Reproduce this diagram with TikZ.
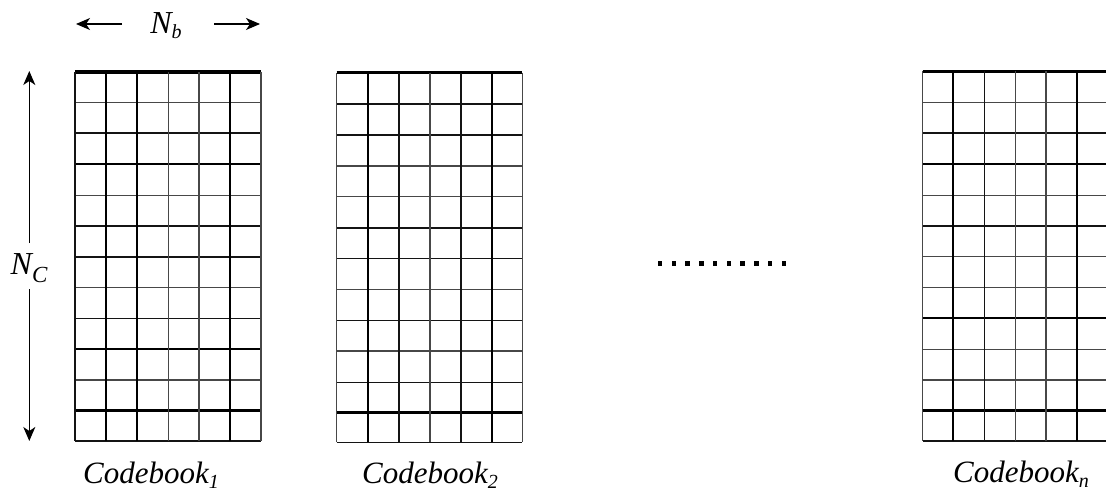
\documentclass[tikz,border=0pt]{standalone}
\usepackage{fontspec}
\setmainfont{Liberation Serif}
\usetikzlibrary{arrows.meta}
\newcommand{\cbsub}[1]{\raisebox{-5pt}{\fontsize{20}{20}\selectfont #1}}
\tikzset{
  gA/.style={line width=1.2pt, draw=black!72},
  gB/.style={line width=1.6pt, draw=black!92},
  gC/.style={line width=2.1pt, draw=black},
  gD/.style={line width=3.2pt, draw=black},
  arr/.style={line width=1.4pt, -{Stealth[length=14pt,width=12pt,inset=4pt]}},
  lbl/.style={font=\fontsize{31}{32}\selectfont\itshape, inner sep=0pt, anchor=base},
  dotsq/.style={fill=black, minimum size=4.5pt, inner sep=0pt, draw=none}
}
\begin{document}
\begin{tikzpicture}[x=1pt,y=-1pt]
\useasboundingbox (0,0) rectangle (1106,492);
\clip (0,0) rectangle (1106,492);
\fill[white] (0,0) rectangle (1106,492);

% ---- Codebook 1 grid
\foreach \v/\s in {72/gD,102.7/gA,133.3/gB,164.3/gC,195.3/gA,226/gB,256.7/gB,287.7/gA,318.3/gB,349.3/gC,380/gA,410.7/gD,441/gB}
  \draw[\s] (75,\v) -- (261,\v);
\foreach \v/\s in {75/gB,106/gC,137.3/gC,168.3/gA,199/gA,230/gC,261/gA}
  \draw[\s] (\v,72) -- (\v,441);

% ---- Codebook 2 grid
\foreach \v/\s in {72.7/gD,104/gB,135/gB,166/gA,196.7/gA,227.7/gB,258.3/gB,289.3/gA,320.3/gB,351/gA,382.3/gB,412.7/gD,442.3/gB}
  \draw[\s] (336.7,\v) -- (522.3,\v);
\foreach \v/\s in {336.7/gA,368.3/gC,399/gB,430/gA,460.7/gB,491.7/gC,522.3/gA}
  \draw[\s] (\v,72.7) -- (\v,442.3);

% ---- Codebook n grid (cut at the right edge)
\foreach \v/\s in {71.5/gD,102.7/gA,133.3/gB,164.3/gC,195.3/gA,226/gB,256.7/gA,287.7/gA,318.3/gC,349.3/gA,380/gA,410.7/gD,440.7/gB}
  \draw[\s] (922.7,\v) -- (1112,\v);
\foreach \v/\s in {922.7/gA,953.3/gC,984.3/gB,1015.7/gA,1046/gA,1076.7/gC,1107.4/gA}
  \draw[\s] (\v,71.5) -- (\v,440.7);

% ---- dots between codebooks
\foreach \i in {0,...,9}
  \node[dotsq] (dot\i) at ({660+13.75*\i},263.3) {};

% ---- N_b dimension
\node[lbl, font=\fontsize{32}{32}\selectfont\itshape] (nb) at (166,33.3) {N\cbsub{\itshape b}};
\coordinate (nbLs) at (122,24);
\coordinate (nbLe) at (76,24);
\coordinate (nbRs) at (214,24);
\coordinate (nbRe) at (260,24);
\draw[arr] (nbLs) -- (nbLe);
\draw[arr] (nbRs) -- (nbRe);

% ---- N_C dimension
\node[font=\fontsize{32}{32}\selectfont\itshape, inner sep=0pt] (nc) at (29,268) {N\raisebox{-8pt}{\fontsize{23}{23}\selectfont C}};
\coordinate (ncTs) at (29.3,243);
\coordinate (ncTe) at (29.3,71);
\coordinate (ncBs) at (29.3,289);
\coordinate (ncBe) at (29.3,441);
\draw[arr] (ncTs) -- (ncTe);
\draw[arr] (ncBs) -- (ncBe);

% ---- labels
\node[lbl] (cb1) at (151,483) {Codebook\cbsub{1}};
\node[lbl] (cb2) at (430,483) {Codebook\cbsub{2}};
\node[lbl] (cbn) at (1021,482) {Codebook\cbsub{n}};
\end{tikzpicture}
\end{document}
